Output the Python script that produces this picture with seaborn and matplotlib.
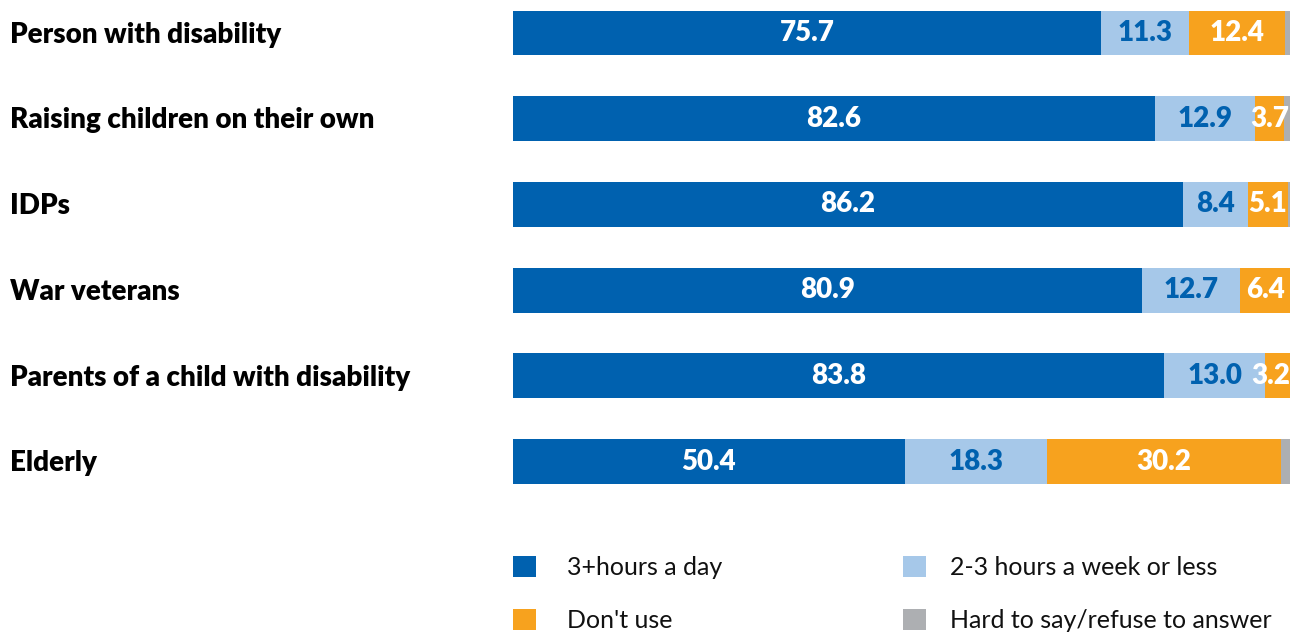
import matplotlib
matplotlib.use("Agg")
import matplotlib.pyplot as plt
import matplotlib.patches as mpatches
from matplotlib.transforms import blended_transform_factory
import seaborn as sns
import numpy as np
import pandas as pd

categories = ["Person with disability", "Raising children on their own", "IDPs",
              "War veterans", "Parents of a child with disability", "Elderly"]
hours_3plus = [75.7, 82.6, 86.2, 80.9, 83.8, 50.4]
hours_2_3_week = [11.3, 12.9, 8.4, 12.7, 13.0, 18.3]
dont_use = [12.4, 3.7, 5.1, 6.4, 3.2, 30.2]
hard_to_say = [0.6, 0.8, 0.3, 0.0, 0.0, 1.1]

series_names = ["3+hours a day", "2-3 hours a week or less", "Don't use", "Hard to say/refuse to answer"]
series_values = [hours_3plus, hours_2_3_week, dont_use, hard_to_say]
colors = ["#0061AF", "#A6C8E9", "#F7A21E", "#ADAFB2"]
label_colors = ["white", "#0061AF", "white", None]

sns.set_theme(style="white")
plt.rcParams["font.family"] = ["Lato", "DejaVu Sans"]

fig = plt.figure(figsize=(12.9, 6.32), dpi=100)
ax = fig.add_axes([513 / 1290, 0, 1 - 513 / 1290, 1])

cum = np.zeros(len(categories))
cums = []
for vals in series_values:
    cum = cum + np.array(vals)
    cums.append(cum.copy())

# draw cumulative layers from the outermost inward
for i in reversed(range(len(series_values))):
    d = pd.DataFrame({"category": categories, "value": cums[i]})
    sns.barplot(data=d, x="value", y="category", order=categories, color=colors[i],
                width=0.525, saturation=1, ax=ax, orient="h", errorbar=None)

for p in ax.patches:
    p.set_edgecolor("none")
    p.set_linewidth(0)

# value labels
for i, vals in enumerate(series_values):
    if label_colors[i] is None:
        continue
    start = cums[i] - np.array(vals)
    for j, v in enumerate(vals):
        xc = start[j] + v / 2
        ha = "center"
        if cums[i][j] >= 99.95 and v < 4.5:
            xc, ha = 100.0, "right"
        ax.text(xc, j, f"{v:.1f}", ha=ha, va="center",
                color=label_colors[i], fontsize=20, fontweight="heavy")

ax.set_xlim(0, 100)
ax.set_ylim((632 - 33) / 85.7, -33 / 85.7)
ax.set_xlabel("")
ax.set_ylabel("")
ax.set_xticks([])
ax.set_yticks([])
for s in ax.spines.values():
    s.set_visible(False)

# category labels at left of figure
trans = blended_transform_factory(fig.transFigure, ax.transData)
for j, c in enumerate(categories):
    ax.text(10 / 1290, j + 0.02, c, transform=trans, ha="left", va="center",
            fontsize=20, fontweight="heavy", color="black", clip_on=False)

# legends, one per column
handles = [mpatches.Patch(facecolor=c, edgecolor="none") for c in colors]
fs = 18
px = fs * 100 / 72
common = dict(frameon=False, fontsize=fs, handlelength=23 / px, handleheight=23 / px,
              labelspacing=(55 - px) / px, borderpad=0, borderaxespad=0,
              loc="upper left")
top = 1 - 556 / 632
leg1 = fig.legend([handles[0], handles[2]], [series_names[0], series_names[2]],
                  bbox_to_anchor=(513 / 1290, top), handletextpad=31 / px, **common)
leg2 = fig.legend([handles[1], handles[3]], [series_names[1], series_names[3]],
                  bbox_to_anchor=(903 / 1290, top), handletextpad=24 / px, **common)
for leg in (leg1, leg2):
    for t in leg.get_texts():
        t.set_color("#111111")

fig.savefig("out.png", dpi=100)
